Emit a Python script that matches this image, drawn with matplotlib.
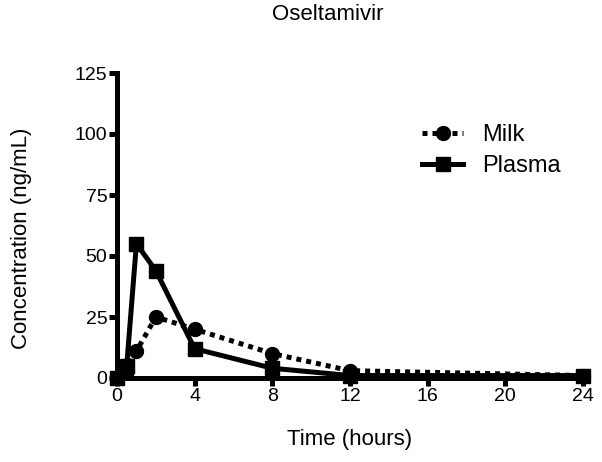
import matplotlib
matplotlib.use("Agg")
import matplotlib.pyplot as plt

plt.rcParams['font.family'] = ['Liberation Sans', 'DejaVu Sans']

time_h = [0, 0.5, 1, 2, 4, 8, 12, 24]
milk = [0, 3, 11, 25, 20, 10, 3, 1]
plasma = [0, 5, 55, 44, 12, 4, 1, 1]
xticks = [0, 4, 8, 12, 16, 20, 24]
yticks = [0, 25, 50, 75, 100, 125]

W, H = 602, 462
fig = plt.figure(figsize=(W / 100, H / 100), dpi=100)
ax = fig.add_axes([117 / W, 1 - 378 / H, (583 - 117) / W, (378 - 73) / H])

ax.plot(time_h, milk, linestyle=(0, (1.0, 1.0)), color='black', linewidth=3.6,
        marker='o', markersize=10, label='Milk', clip_on=False, zorder=3)
ax.plot(time_h, plasma, linestyle='-', color='black', linewidth=3.6,
        marker='s', markersize=10, label='Plasma', clip_on=False, zorder=3)

ax.set_xlim(0, 24)
ax.set_ylim(0, 125)
ax.set_xticks(xticks)
ax.set_yticks(yticks)
for s in ['top', 'right']:
    ax.spines[s].set_visible(False)
for s in ['left', 'bottom']:
    ax.spines[s].set_linewidth(3.6)
ax.tick_params(width=3.6, length=5.5, labelsize=14, pad=1.5)

fig.text(350 / W, 1 - 440 / H, 'Time (hours)', fontsize=16, ha='center', va='center')
fig.text(22 / W, 1 - 238 / H, 'Concentration (ng/mL)', fontsize=16,
         ha='center', va='center', rotation=90)
fig.text(328 / W, 1 - 15 / H, 'Oseltamivir', fontsize=16, ha='center', va='center')

ax.legend(loc='upper left', bbox_to_anchor=(422 / W, 1 - 124 / H),
          bbox_transform=fig.transFigure, frameon=False,
          fontsize=17, handlelength=1.75, handletextpad=0.8,
          labelspacing=0.4, borderpad=0, borderaxespad=0)

fig.savefig('out.png', dpi=100)
